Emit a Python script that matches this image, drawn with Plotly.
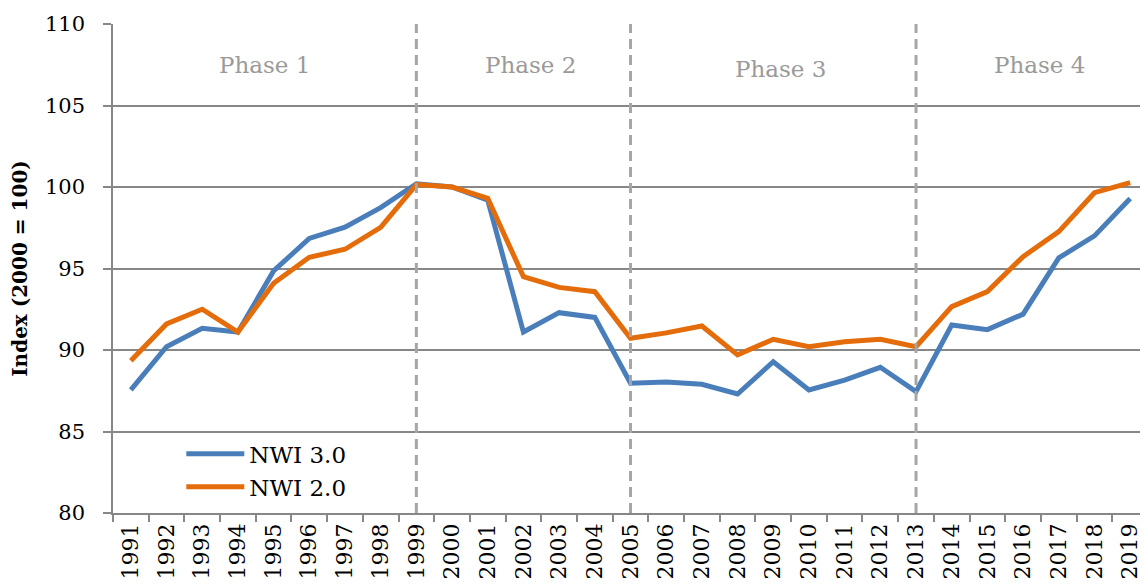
import plotly.graph_objects as go

years = [str(y) for y in range(1991, 2020)]
nwi3 = [87.55, 90.2, 91.33, 91.1, 94.85, 96.85, 97.53, 98.73, 100.2, 100.0, 99.2,
        91.1, 92.29, 92.0, 87.96, 88.03, 87.9, 87.3, 89.28, 87.55, 88.15, 88.94,
        87.45, 91.53, 91.25, 92.2, 95.65, 97.0, 99.3]
nwi2 = [89.34, 91.6, 92.5, 91.1, 94.09, 95.69, 96.18, 97.53, 100.15, 100.0, 99.3,
        94.5, 93.84, 93.58, 90.72, 91.05, 91.47, 89.7, 90.66, 90.2, 90.51, 90.66,
        90.2, 92.66, 93.58, 95.73, 97.26, 99.65, 100.27]
phase_breaks = ["1999", "2005", "2013"]
phase_labels = ["Phase 1", "Phase 2", "Phase 3", "Phase 4"]
phase_label_y = [107.5, 107.5, 107.25, 107.5]
phase_label_shift = [0.0, 0.2, 0.2, 0.2]

FONT = "DejaVu Serif"
GRID = "#878787"

fig = go.Figure()
fig.add_trace(go.Scatter(x=years, y=nwi3, mode="lines", name="NWI 3.0",
                         line=dict(color="#4A7EBB", width=5)))
fig.add_trace(go.Scatter(x=years, y=nwi2, mode="lines", name="NWI 2.0",
                         line=dict(color="#E46C0A", width=5)))

# phase dividers
for b in phase_breaks:
    fig.add_shape(type="line", xref="x", yref="paper", x0=years.index(b), x1=years.index(b),
                  y0=0, y1=1, line=dict(color="#A6A6A6", width=3, dash="10px,6px"), layer="above")

# phase labels centred between boundaries
bounds = [-0.5] + [years.index(b) for b in phase_breaks] + [len(years) - 0.5]
for i, lab in enumerate(phase_labels):
    xc = (bounds[i] + bounds[i + 1]) / 2 + phase_label_shift[i]
    fig.add_annotation(x=xc, y=phase_label_y[i], xref="x", yref="y", text=lab,
                       showarrow=False, font=dict(family=FONT, size=23, color="#9A9A9A"))

fig.update_layout(
    width=1148, height=587,
    margin=dict(l=105, r=8, t=16, b=82),
    paper_bgcolor="white", plot_bgcolor="white",
    font=dict(family=FONT, color="black"),
    showlegend=True,
    legend=dict(x=0.066, y=0.165, xanchor="left", yanchor="top",
                font=dict(family=FONT, size=23, color="black"),
                bgcolor="rgba(0,0,0,0)", itemwidth=58, tracegroupgap=0),
    xaxis=dict(type="category", categoryorder="array", categoryarray=years,
               range=[-0.5, len(years) - 0.5], automargin=False,
               tickson="boundaries", ticks="outside", ticklen=7, tickcolor=GRID, tickwidth=1.5,
               showline=True, linecolor=GRID, linewidth=1.5, showgrid=False,
               tickangle=-90, tickfont=dict(family=FONT, size=22, color="black")),
    yaxis=dict(range=[80, 110], dtick=5, tick0=80, showgrid=True, gridcolor=GRID, gridwidth=1.5,
               zeroline=False, showline=True, linecolor=GRID, linewidth=1.5, automargin=False,
               ticks="outside", ticklen=8, tickcolor=GRID, tickwidth=1.5,
               ticklabelstandoff=14,
               tickfont=dict(family=FONT, size=21, color="black"),
               title=dict(text="<b>Index (2000 = 100)</b>", standoff=12,
                          font=dict(family=FONT, size=20, color="black"))),
)

fig.write_html("out.html")
